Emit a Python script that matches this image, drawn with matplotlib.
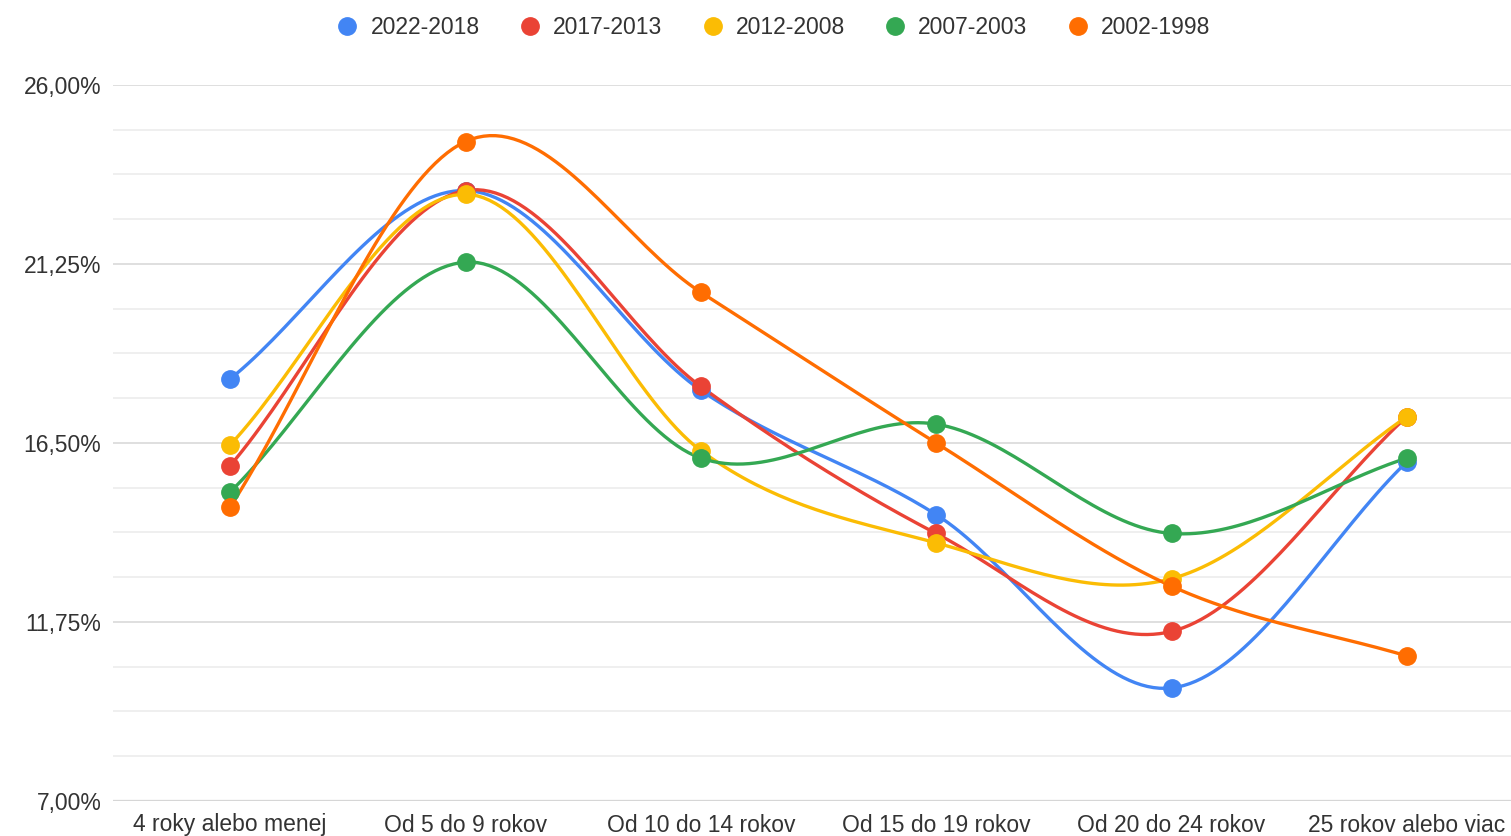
import numpy as np
import matplotlib
matplotlib.use('Agg')
import matplotlib.pyplot as plt
from matplotlib.ticker import FixedLocator, FuncFormatter

categories = ['4 roky alebo menej', 'Od 5 do 9 rokov', 'Od 10 do 14 rokov',
              'Od 15 do 19 rokov', 'Od 20 do 24 rokov', '25 rokov alebo viac']

s_2022_2018 = [18.2, 23.2, 17.9, 14.6, 10.0, 16.0]
s_2017_2013 = [15.9, 23.2, 18.0, 14.1, 11.5, 17.2]
s_2012_2008 = [16.45, 23.1, 16.3, 13.85, 12.9, 17.2]
s_2007_2003 = [15.2, 21.3, 16.1, 17.0, 14.1, 16.1]
s_2002_1998 = [14.8, 24.5, 20.5, 16.5, 12.7, 10.85]

series_names = ['2022-2018', '2017-2013', '2012-2008', '2007-2003', '2002-1998']
series_vals = [s_2022_2018, s_2017_2013, s_2012_2008, s_2007_2003, s_2002_1998]
colors = ['#4285f4', '#ea4335', '#fbbc04', '#34a853', '#ff6d01']

plt.rcParams['font.family'] = ['Liberation Sans', 'DejaVu Sans']


def smooth(x, y, n=40):
    # catmull-rom style curve through the points
    x = np.asarray(x, float)
    y = np.asarray(y, float)
    px = np.concatenate([[2 * x[0] - x[1]], x, [2 * x[-1] - x[-2]]])
    py = np.concatenate([[2 * y[0] - y[1]], y, [2 * y[-1] - y[-2]]])
    xs, ys = [], []
    t = np.linspace(0, 1, n)
    for i in range(1, len(px) - 2):
        for p, out in ((px, xs), (py, ys)):
            p0, p1, p2, p3 = p[i - 1], p[i], p[i + 1], p[i + 2]
            m1 = (p2 - p0) / 2
            m2 = (p3 - p1) / 2
            h00 = 2 * t**3 - 3 * t**2 + 1
            h10 = t**3 - 2 * t**2 + t
            h01 = -2 * t**3 + 3 * t**2
            h11 = t**3 - t**2
            out.extend(h00 * p1 + h10 * m1 + h01 * p2 + h11 * m2)
    return np.array(xs), np.array(ys)


fig = plt.figure(figsize=(15.11, 8.36), dpi=100)
ax = fig.add_axes([112.5 / 1511, 35 / 836, 1412 / 1511, 716 / 836])

x = np.arange(len(categories))
handles = []
for name, vals, c in zip(series_names, series_vals, colors):
    sx, sy = smooth(x, vals)
    ax.plot(sx, sy, color=c, lw=2.4, solid_capstyle='round', zorder=3)
    h, = ax.plot(x, vals, 'o', color=c, ms=12.5, zorder=4, label=name)
    handles.append(h)

ax.set_xlim(-0.5, len(categories) - 0.5)
ax.set_ylim(7, 26)
major = [7, 11.75, 16.5, 21.25, 26]
minor = np.arange(7, 26.01, 1.1875)
ax.yaxis.set_major_locator(FixedLocator(major))
ax.yaxis.set_minor_locator(FixedLocator(minor))
ax.yaxis.set_major_formatter(FuncFormatter(lambda v, p: f'{v:.2f}%'.replace('.', ',')))
ax.set_xticks(x)
ax.set_xticklabels(categories)
ax.grid(axis='y', which='minor', color='#ececec', lw=1.2, zorder=0)
ax.grid(axis='y', which='major', color='#d9d9d9', lw=1.2, zorder=0)
ax.axhline(7, color='#cccccc', lw=1.6, zorder=1)
for sp in ax.spines.values():
    sp.set_visible(False)
ax.tick_params(axis='both', which='both', length=0, labelsize=16.5, colors='#333333')
ax.tick_params(axis='y', pad=8)
ax.tick_params(axis='x', pad=9)

fig.legend(handles=handles, loc='upper center', bbox_to_anchor=(773 / 1511, 1.0),
           ncol=5, frameon=False, fontsize=16.5, handlelength=1.0, handletextpad=0.5,
           columnspacing=1.7, markerscale=1.0, borderaxespad=0.3,
           labelcolor='#333333')

fig.savefig('out.png', dpi=100)
